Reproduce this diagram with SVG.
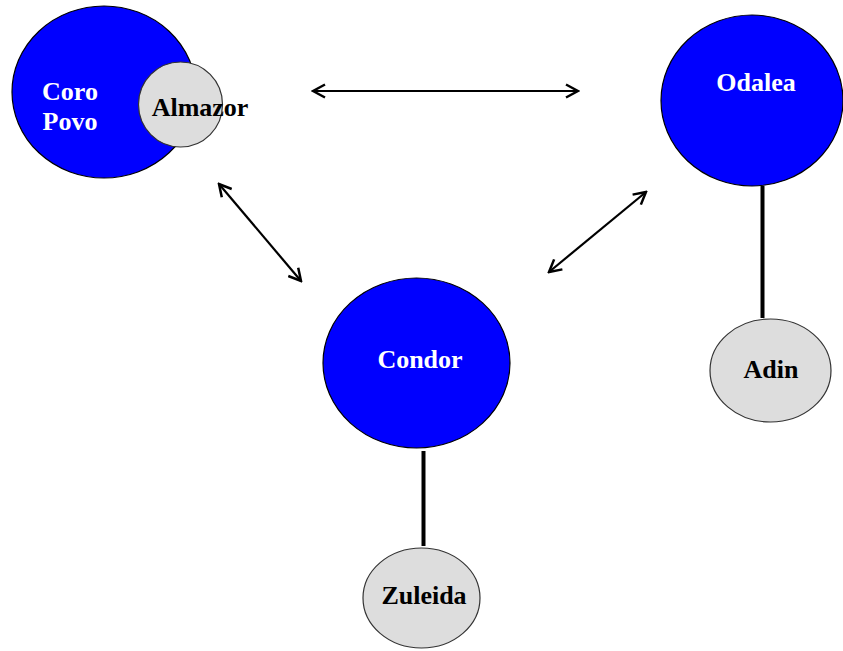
<svg xmlns="http://www.w3.org/2000/svg" width="843" height="651" viewBox="0 0 843 651">
<style>
.blue{fill:#0000FF;stroke:#000;stroke-width:1.2}
.gray{fill:#DDDDDD;stroke:#333;stroke-width:1.2}
.lbl{font-family:"Liberation Serif","Times New Roman",serif;font-weight:bold;font-size:26px;text-anchor:middle}
.w{fill:#fff}
.k{fill:#000}
.arrow{stroke:#000;stroke-width:2.2;fill:none;marker-start:url(#ah);marker-end:url(#ah)}
.link{stroke:#000;stroke-width:4}
</style>
<defs>
<marker id="ah" viewBox="0 0 16 16" refX="14" refY="8" markerWidth="16" markerHeight="16" markerUnits="userSpaceOnUse" orient="auto-start-reverse">
<path d="M2,1.5 L14,8 L2,14.5" fill="none" stroke="#000" stroke-width="2.5"/>
</marker>
</defs>
<rect width="843" height="651" fill="#fff"/>
<g id="connectors">
<line class="arrow" x1="313" y1="91" x2="578" y2="91"/>
<line class="arrow" x1="219" y1="184" x2="301" y2="281"/>
<line class="arrow" x1="646" y1="192" x2="549" y2="272"/>
<line class="link" x1="423.5" y1="451" x2="423.5" y2="546"/>
<line class="link" x1="762.5" y1="186" x2="762.5" y2="318"/>
</g>
<g id="coro-povo">
<ellipse class="blue" cx="104" cy="92" rx="92" ry="86"/>
<text class="lbl w" x="70" y="100">Coro</text>
<text class="lbl w" x="70" y="130">Povo</text>
</g>
<g id="almazor">
<ellipse class="gray" cx="180.5" cy="104.5" rx="42" ry="42.5"/>
<text class="lbl k" x="200" y="116">Almazor</text>
</g>
<g id="odalea">
<ellipse class="blue" cx="752" cy="100.5" rx="91" ry="85.5"/>
<text class="lbl w" x="756" y="91">Odalea</text>
</g>
<g id="condor">
<ellipse class="blue" cx="416.5" cy="363" rx="93.5" ry="85"/>
<text class="lbl w" x="420" y="368">Condor</text>
</g>
<g id="zuleida">
<ellipse class="gray" cx="421.5" cy="598" rx="58.5" ry="50"/>
<text class="lbl k" x="424" y="604">Zuleida</text>
</g>
<g id="adin">
<ellipse class="gray" cx="770.5" cy="370.5" rx="60.5" ry="51.5"/>
<text class="lbl k" x="771" y="378">Adin</text>
</g>
</svg>
